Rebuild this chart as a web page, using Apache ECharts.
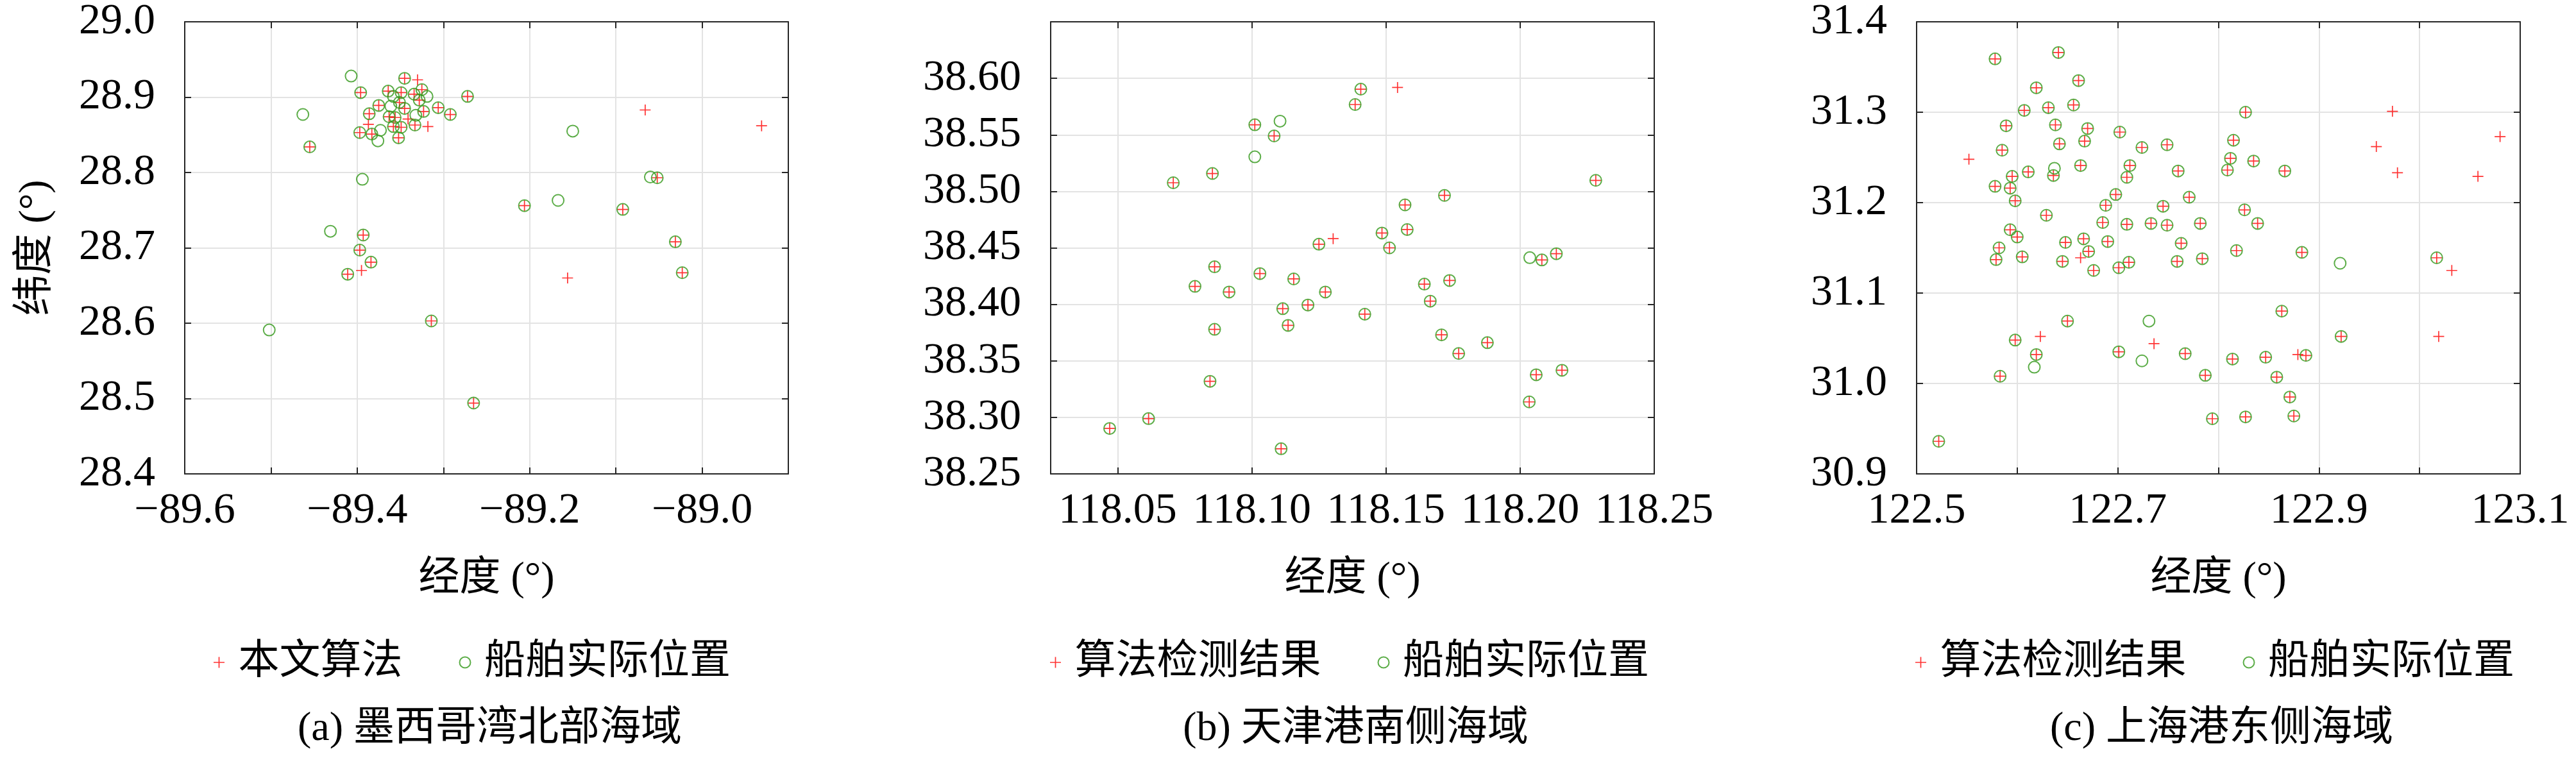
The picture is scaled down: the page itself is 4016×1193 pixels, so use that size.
<!DOCTYPE html>
<html lang="zh">
<head>
<meta charset="UTF-8">
<title>船舶位置检测结果对比</title>
<style>
  html, body { margin: 0; padding: 0; background: #fff; }
  #main { width: 4016px; height: 1193px; }
</style>
<script src="https://cdn.jsdelivr.net/npm/echarts@6/dist/echarts.min.js"></script>
</head>
<body>
<div id="main"></div>
<script>
// ---------- (a) 墨西哥湾北部海域  [经度, 纬度] ----------
// 检测结果与实际位置重合的船
var aBoth = [
  [-89.345, 28.925], [-89.396, 28.906], [-89.364, 28.908], [-89.349, 28.906], [-89.334, 28.904],
  [-89.325, 28.910], [-89.328, 28.896], [-89.351, 28.893], [-89.375, 28.889], [-89.345, 28.885],
  [-89.306, 28.886], [-89.323, 28.881], [-89.292, 28.877], [-89.272, 28.901], [-89.386, 28.878],
  [-89.363, 28.874], [-89.356, 28.873], [-89.358, 28.861], [-89.349, 28.860], [-89.333, 28.863],
  [-89.397, 28.853], [-89.383, 28.851], [-89.352, 28.846], [-89.455, 28.834], [-89.052, 28.793],
  [-89.206, 28.756], [-89.092, 28.751], [-89.393, 28.717], [-89.397, 28.697], [-89.384, 28.681],
  [-89.411, 28.665], [-89.031, 28.708], [-89.023, 28.667], [-89.314, 28.603], [-89.265, 28.494]
];
// 只有实际位置（漏检）
var aTruthOnly = [
  [-89.407, 28.928], [-89.319, 28.901], [-89.358, 28.901], [-89.361, 28.888], [-89.332, 28.876],
  [-89.373, 28.856], [-89.376, 28.842], [-89.463, 28.877], [-89.150, 28.855], [-89.394, 28.791],
  [-89.060, 28.794], [-89.167, 28.763], [-89.431, 28.722], [-89.502, 28.591]
];
// 只有算法结果（虚警）
var aAlgoOnly = [
  [-89.330, 28.923], [-89.341, 28.871], [-89.387, 28.864], [-89.318, 28.861],
  [-89.066, 28.883], [-88.931, 28.862], [-89.395, 28.670], [-89.156, 28.660]
];
var aXLabels = [-89.6, -89.4, -89.2, -89.0];
var aYLabels = [28.4, 28.5, 28.6, 28.7, 28.8, 28.9, 29.0];

// ---------- (b) 天津港南侧海域 ----------
var bBoth = [
  [118.1406, 38.5904], [118.1385, 38.5768], [118.1011, 38.5589], [118.1083, 38.5490], [118.0853, 38.5158],
  [118.0707, 38.5076], [118.2282, 38.5097], [118.1718, 38.4964], [118.1571, 38.4880], [118.1485, 38.4631],
  [118.1579, 38.4662], [118.1513, 38.4500], [118.1250, 38.4532], [118.2081, 38.4393], [118.2135, 38.4448],
  [118.0861, 38.4332], [118.1030, 38.4272], [118.1156, 38.4225], [118.0788, 38.4159], [118.0915, 38.4109],
  [118.1274, 38.4109], [118.1643, 38.4179], [118.1737, 38.4211], [118.1115, 38.3962], [118.1209, 38.3994],
  [118.1665, 38.4028], [118.1421, 38.3913], [118.0861, 38.3779], [118.1135, 38.3814], [118.1707, 38.3730],
  [118.1878, 38.3661], [118.1771, 38.3565], [118.2156, 38.3417], [118.2060, 38.3377], [118.0844, 38.3319],
  [118.2034, 38.3137], [118.0615, 38.2989], [118.0470, 38.2902], [118.1109, 38.2722]
];
var bTruthOnly = [[118.1105, 38.5621], [118.1011, 38.5305], [118.2036, 38.4413]];
var bAlgoOnly = [[118.1543, 38.5919], [118.1303, 38.4581]];
var bXTicks = [118.05, 118.10, 118.15, 118.20, 118.25];
var bYLabels = [38.25, 38.30, 38.35, 38.40, 38.45, 38.50, 38.55, 38.60];

// ---------- (c) 上海港东侧海域 ----------
var cBoth = [
  [122.578, 31.359], [122.641, 31.366], [122.661, 31.335], [122.619, 31.327], [122.656, 31.308],
  [122.631, 31.305], [122.607, 31.302], [122.827, 31.300], [122.589, 31.285], [122.638, 31.286],
  [122.670, 31.282], [122.702, 31.278], [122.815, 31.269], [122.667, 31.268], [122.642, 31.265],
  [122.749, 31.264], [122.585, 31.258], [122.724, 31.261], [122.812, 31.249], [122.835, 31.246],
  [122.663, 31.241], [122.712, 31.241], [122.636, 31.230], [122.611, 31.234], [122.595, 31.229],
  [122.709, 31.228], [122.760, 31.235], [122.809, 31.236], [122.866, 31.235], [122.578, 31.218],
  [122.593, 31.216], [122.598, 31.202], [122.698, 31.209], [122.771, 31.206], [122.688, 31.197],
  [122.745, 31.196], [122.826, 31.192], [122.629, 31.186], [122.685, 31.178], [122.709, 31.176],
  [122.733, 31.177], [122.749, 31.175], [122.782, 31.177], [122.839, 31.177], [122.593, 31.170],
  [122.600, 31.162], [122.666, 31.160], [122.648, 31.156], [122.690, 31.157], [122.763, 31.155],
  [122.582, 31.150], [122.671, 31.146], [122.818, 31.147], [122.883, 31.145], [122.579, 31.137],
  [122.605, 31.140], [122.645, 31.135], [122.711, 31.134], [122.759, 31.135], [122.784, 31.138],
  [123.017, 31.139], [122.676, 31.125], [122.701, 31.128], [122.863, 31.080], [122.650, 31.069],
  [122.598, 31.048], [122.922, 31.052], [122.701, 31.035], [122.767, 31.033], [122.619, 31.032],
  [122.887, 31.031], [122.847, 31.029], [122.814, 31.027], [122.583, 31.008], [122.787, 31.009],
  [122.858, 31.007], [122.871, 30.985], [122.827, 30.963], [122.794, 30.961], [122.875, 30.964],
  [122.522, 30.936]
];
var cTruthOnly = [[122.637, 31.238], [122.921, 31.133], [122.731, 31.069], [122.724, 31.025], [122.617, 31.018]];
var cAlgoOnly = [
  [122.973, 31.301], [123.080, 31.273], [122.957, 31.262], [122.552, 31.248], [122.978, 31.233],
  [123.058, 31.229], [122.663, 31.139], [123.032, 31.125], [122.623, 31.052], [123.019, 31.052],
  [122.736, 31.044], [122.879, 31.032]
];
var cXLabels = [122.5, 122.7, 122.9, 123.1];
var cYLabels = [30.9, 31.0, 31.1, 31.2, 31.3, 31.4];

var truthName = '船舶实际位置';
var captions = ['(a) 墨西哥湾北部海域', '(b) 天津港南侧海域', '(c) 上海港东侧海域'];

// ---------- 画图 ----------
var NUM_FONT = 'Liberation Serif';
var CJK_FONT = 'Liberation Serif, Noto Sans CJK SC';
var RED = '#ff0000', GREEN = '#33991a', AXIS = '#262626', GRID = '#e3e3e3';
var PLUS = 'path://M-1,-10H1V-1H10V1H1V10H-1V1H-10V-1H-1Z';

var panels = [
  { left: 288, xMin: -89.6, xMax: -88.9, xStep: 0.1, xLabels: aXLabels, xDec: 1,
    yMin: 28.4, yMax: 29.0, yStep: 0.1, yLabels: aYLabels, yDec: 1,
    algo: '本文算法', both: aBoth, truth: aTruthOnly, alg: aAlgoOnly, legendLeft: 328 },
  { left: 1638, xMin: 118.025, xMax: 118.25, xStep: 0.025, xLabels: bXTicks, xTicks: bXTicks, xDec: 2,
    yMin: 38.25, yMax: 38.65, yStep: 0.05, yLabels: bYLabels, yDec: 2,
    algo: '算法检测结果', both: bBoth, truth: bTruthOnly, alg: bAlgoOnly, legendLeft: 1632 },
  { left: 2988, xMin: 122.5, xMax: 123.1, xStep: 0.1, xLabels: cXLabels, xDec: 1,
    yMin: 30.9, yMax: 31.4, yStep: 0.1, yLabels: cYLabels, yDec: 1,
    algo: '算法检测结果', both: cBoth, truth: cTruthOnly, alg: cAlgoOnly, legendLeft: 2981 }
];
var TOP = 34, W = 941, H = 705;

function fmt(dec) {
  return function (v) { return v.toFixed(dec).replace('-', '\u2212'); };
}

var option = {
  animation: false,
  backgroundColor: '#fff',
  textStyle: { fontFamily: NUM_FONT },
  grid: [], xAxis: [], yAxis: [], series: [], legend: [], title: []
};

panels.forEach(function (p, i) {
  option.grid.push({ left: p.left, top: TOP, width: W, height: H });
  var line = { show: true, onZero: false, lineStyle: { color: AXIS, width: 2 } };
  var tick = { show: true, inside: true, length: 10, lineStyle: { color: AXIS, width: 2 } };
  if (p.xTicks) tick = Object.assign({}, tick, { customValues: p.xTicks });
  var ytick = { show: true, inside: true, length: 10, lineStyle: { color: AXIS, width: 2 } };

  option.xAxis.push({
    gridIndex: i, type: 'value', position: 'bottom', min: p.xMin, max: p.xMax, interval: p.xStep,
    axisLine: line, axisTick: tick,
    axisLabel: { customValues: p.xLabels, formatter: fmt(p.xDec), fontFamily: NUM_FONT, fontSize: 68, color: '#000', margin: 24 },
    splitLine: { show: true, lineStyle: { color: GRID, width: 2 } },
    name: '经度 (°)', nameLocation: 'middle', nameGap: 132,
    nameTextStyle: { fontFamily: CJK_FONT, fontSize: 64, color: '#000' }
  });
  option.xAxis.push({
    gridIndex: i, type: 'value', position: 'top', min: p.xMin, max: p.xMax, interval: p.xStep,
    axisLine: line, axisTick: tick, axisLabel: { show: false }, splitLine: { show: false }
  });
  option.yAxis.push({
    gridIndex: i, type: 'value', position: 'left', min: p.yMin, max: p.yMax, interval: p.yStep,
    axisLine: line, axisTick: ytick,
    axisLabel: { customValues: p.yLabels, formatter: fmt(p.yDec), fontFamily: NUM_FONT, fontSize: 68, color: '#000', margin: 46 },
    splitLine: { show: true, lineStyle: { color: GRID, width: 2 } },
    name: i === 0 ? '纬度 (°)' : '', nameLocation: 'middle', nameGap: 200,
    nameTextStyle: { fontFamily: CJK_FONT, fontSize: 64, color: '#000' }
  });
  option.yAxis.push({
    gridIndex: i, type: 'value', position: 'right', min: p.yMin, max: p.yMax, interval: p.yStep,
    axisLine: line, axisTick: ytick, axisLabel: { show: false }, splitLine: { show: false }
  });

  option.series.push({
    name: p.algo, type: 'scatter', xAxisIndex: 2 * i, yAxisIndex: 2 * i,
    symbol: PLUS, symbolSize: 17,
    itemStyle: { color: RED },
    data: p.both.concat(p.alg)
  });
  option.series.push({
    name: truthName, type: 'scatter', xAxisIndex: 2 * i, yAxisIndex: 2 * i,
    symbol: 'circle', symbolSize: 18,
    itemStyle: { color: 'rgba(0,0,0,0)', borderColor: GREEN, borderWidth: 2 },
    data: p.both.concat(p.truth)
  });

  option.legend.push({
    left: p.legendLeft, top: 996, orient: 'horizontal',
    itemWidth: 40, itemHeight: 17, itemGap: 88,
    data: [p.algo, truthName],
    textStyle: { fontFamily: CJK_FONT, fontSize: 64, color: '#000', padding: [0, 0, 0, 5] }
  });
  option.title.push({
    text: captions[i], left: p.left + W / 2, textAlign: 'center', top: 1100,
    textStyle: { fontFamily: CJK_FONT, fontSize: 64, fontWeight: 'normal', color: '#000' }
  });
});

var myChart = echarts.init(document.getElementById('main'));
myChart.setOption(option);
</script>
</body>
</html>
